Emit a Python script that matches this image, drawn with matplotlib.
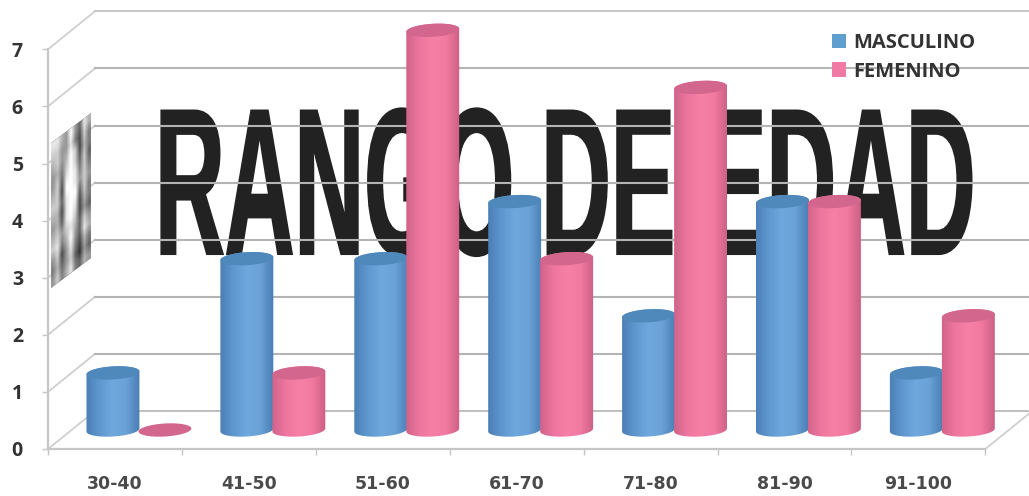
#!/usr/bin/env python3
"""Cylinder-style column chart of patients per age range, split by sex."""

import numpy as np
import matplotlib
matplotlib.use("Agg")
import matplotlib.pyplot as plt
import matplotlib.patheffects as pe
from matplotlib.colors import LinearSegmentedColormap
from matplotlib.patches import Patch, PathPatch, Polygon
from matplotlib.path import Path
from matplotlib.transforms import Affine2D

age_ranges = ["30-40", "41-50", "51-60", "61-70", "71-80", "81-90", "91-100"]
masculino = [1, 3, 3, 4, 2, 4, 1]
femenino = [0, 1, 7, 3, 6, 4, 2]
y_ticks = [0, 1, 2, 3, 4, 5, 6, 7]

# Pixels per data unit, and the origin of the front axis
PX_X = 133.9
PX_Y = 57.1
ORIGIN_X = 48
ORIGIN_Y = 449
WIDTH, HEIGHT = 1029, 496

# Depth of the fake 3D box, in data units
DEPTH_X = 47 / PX_X
DEPTH_Y = 38 / PX_Y

BLUE = {"ramp": ["#4b7fb6", "#5f98cf", "#6fa8dd", "#6aa2d7", "#4a7db3"], "top": "#4f88bb"}
PINK = {"ramp": ["#d0648a", "#ee769e", "#f680a6", "#f27aa0", "#cd6087"], "top": "#d2668d"}

# Shades of the squeezed lettering on the side wall, 0 dark to 9 light
WALL_ROWS = [
    "886595386",
    "775584274",
    "675697264",
    "564797373",
    "573898474",
    "672998575",
    "773899374",
    "662898264",
    "563897253",
    "675786375",
    "784695386",
    "572584264",
    "463573153",
    "574684365",
]


class HeavyStretchY(pe.AbstractPathEffect):
    """Stretch text vertically about its baseline and thicken its strokes."""

    def __init__(self, factor, stroke):
        super().__init__()
        self.factor = factor
        self.stroke = stroke

    def draw_path(self, renderer, gc, tpath, affine, rgbFace=None):
        base = affine.transform((0, 0))[1]
        stretch = Affine2D().translate(0, -base).scale(1, self.factor).translate(0, base)
        gc0 = renderer.new_gc()
        gc0.copy_properties(gc)
        gc0.set_linewidth(self.stroke)
        gc0.set_joinstyle("miter")
        gc0.set_foreground(rgbFace)
        renderer.draw_path(gc0, tpath, affine + stretch, rgbFace)
        gc0.restore()


def px_x(px):
    return (px - ORIGIN_X) / PX_X


def px_y(px):
    return (ORIGIN_Y - px) / PX_Y


def ellipse_points(cx, cy, start, stop, a=26.5, b=6.5, tilt=3.5):
    """Points of a tilted ellipse, sized in pixels, centred on a data position."""
    t = np.radians(np.linspace(start, stop, 60))
    th = np.radians(tilt)
    ex = a * np.cos(t) * np.cos(th) - b * np.sin(t) * np.sin(th)
    ey = a * np.cos(t) * np.sin(th) + b * np.sin(t) * np.cos(th)
    return np.column_stack([cx + ex / PX_X, cy + ey / PX_Y])


def draw_cylinder(ax, x, value, style, zorder):
    base = 19 / PX_Y
    top = base + value
    half = 27 / PX_X

    if value > 0:
        body = np.vstack([
            ellipse_points(x, top, 0, 180),
            ellipse_points(x, base, 180, 360),
        ])
        cmap = LinearSegmentedColormap.from_list("cyl", style["ramp"])
        img = ax.imshow(
            np.linspace(0, 1, 64).reshape(1, -1), cmap=cmap, aspect="auto",
            extent=(x - half, x + half, base - 0.3, top + 0.3),
            interpolation="bilinear", zorder=zorder,
        )
        img.set_clip_path(PathPatch(Path(body), transform=ax.transData))

    cap = Polygon(ellipse_points(x, top, 0, 360), closed=True,
                  facecolor=style["top"], edgecolor="none", zorder=zorder + 0.1)
    ax.add_patch(cap)


def main():
    fig = plt.figure(figsize=(WIDTH / 100, HEIGHT / 100), dpi=100)
    ax = fig.add_axes([0, 0, 1, 1])
    ax.set_xlim(px_x(0), px_x(WIDTH))
    ax.set_ylim(px_y(HEIGHT), px_y(0))
    ax.set_autoscale_on(False)
    ax.patch.set_visible(False)

    n = len(age_ranges)

    # Axes: only the front edges of the box are real spines
    for side in ("top", "right"):
        ax.spines[side].set_visible(False)
    ax.spines["left"].set_position(("data", 0))
    ax.spines["left"].set_bounds(0, max(y_ticks))
    ax.spines["bottom"].set_position(("data", 0))
    ax.spines["bottom"].set_bounds(0, n)
    for side in ("left", "bottom"):
        ax.spines[side].set_color("#c6c6c6")
        ax.spines[side].set_linewidth(1.6)

    ax.set_yticks(y_ticks)
    ax.tick_params(axis="y", length=4, width=1, color="#c6c6c6", pad=14, labelsize=14,
                   labelcolor="#333333")
    for label in ax.get_yticklabels():
        label.set_fontfamily("Open Sans")
        label.set_fontweight("bold")

    ax.set_xticks(np.arange(n + 1))
    ax.set_xticklabels([])
    ax.set_xticks(np.arange(n) + 0.5, minor=True)
    ax.set_xticklabels(age_ranges, minor=True)
    ax.tick_params(axis="x", which="major", length=4, width=1, color="#c6c6c6")
    ax.tick_params(axis="x", which="minor", length=0, pad=19, labelsize=12.5,
                   labelcolor="#4a4a4a")
    for label in ax.get_xticklabels(minor=True):
        label.set_fontweight("bold")

    # Title lettering sits on the back wall, under the gridlines
    ax.text(px_x(155), px_y(254), "RANGO DE EDAD", fontsize=69.5, fontweight="bold",
            family=["Liberation Sans Narrow", "Liberation Sans"], color="#222222",
            ha="left", va="baseline", zorder=1,
            path_effects=[HeavyStretchY(2.16, 1.5)])

    # Gridlines across the side wall and back wall
    for v in y_ticks:
        ax.plot([0, DEPTH_X], [v, v + DEPTH_Y], color="#cfcfcf", lw=1.3, zorder=1.2)
        ax.plot([DEPTH_X, px_x(WIDTH)], [v + DEPTH_Y, v + DEPTH_Y],
                color="#b4b4b4" if v < max(y_ticks) else "#c8c8c8",
                lw=1.5 if v else 1.2, zorder=2)
    ax.plot([n, n + DEPTH_X], [0, DEPTH_Y], color="#cfcfcf", lw=1.3, zorder=1.2)

    # Side wall carries a squeezed copy of the lettering
    shades = np.array([[int(c) / 9 for c in row] for row in WALL_ROWS])
    x0, x1 = px_x(51), px_x(91)
    slope = (30 / PX_Y) / (x1 - x0)
    skew = Affine2D.from_values(1, slope, 0, 1, 0, -slope * x0)
    ax.imshow(shades, cmap="gray", vmin=-0.1, vmax=1.0, aspect="auto",
              extent=(x0, x1, px_y(288), px_y(143)), interpolation="bilinear",
              transform=skew + ax.transData, zorder=1.5)

    # Cylinders, blue before pink so pink overlaps its neighbour
    offset = 26 / PX_X
    centres = np.arange(n) + 0.5 + 24 / PX_X
    for i in range(n):
        draw_cylinder(ax, centres[i] - offset, masculino[i], BLUE, 3 + i * 0.01)
    for i in range(n):
        draw_cylinder(ax, centres[i] + offset, femenino[i], PINK, 4 + i * 0.01)

    handles = [Patch(facecolor="#5f9fd0", label="MASCULINO"),
               Patch(facecolor="#f07aa3", label="FEMENINO")]
    legend = ax.legend(handles=handles, loc="upper left",
                       bbox_to_anchor=(818 / WIDTH, 1 - 19 / HEIGHT), frameon=False,
                       prop={"family": "Open Sans", "weight": "bold", "size": 14.5},
                       handlelength=0.7, handleheight=0.75, handletextpad=0.35,
                       labelspacing=0.42, borderpad=0.2, labelcolor="#333333")
    legend.set_zorder(6)

    fig.savefig("out.png", dpi=100, facecolor="white")
    plt.close(fig)


if __name__ == "__main__":
    main()
